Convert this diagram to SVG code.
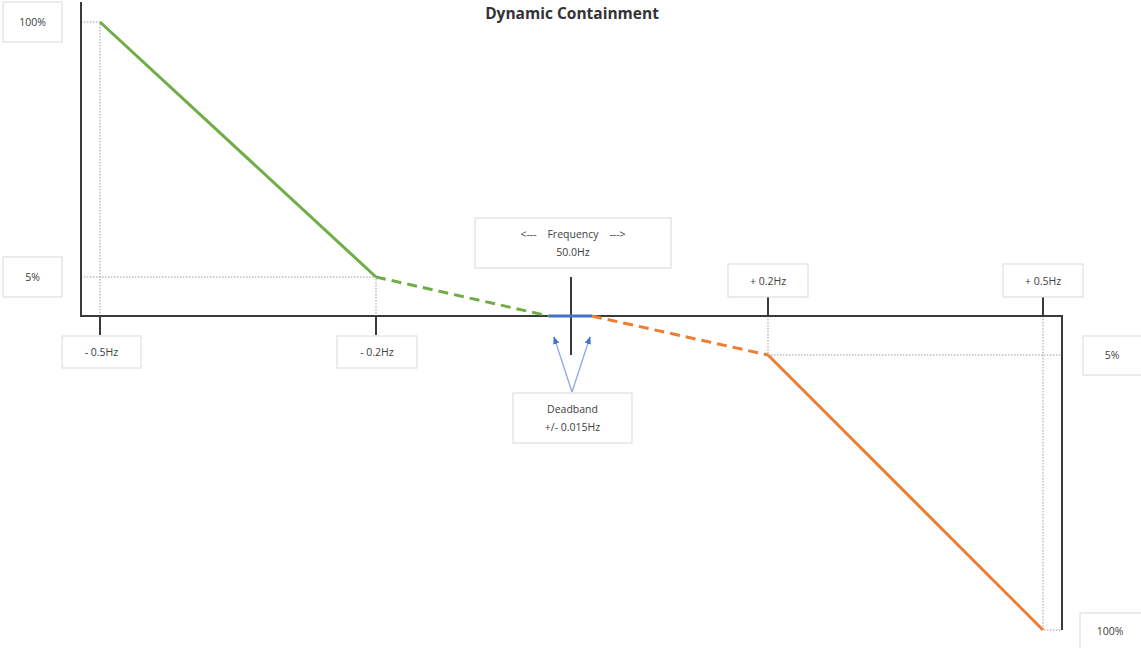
<svg xmlns="http://www.w3.org/2000/svg" width="1141" height="648" viewBox="0 0 1141 648">
<defs>
<style>
.box{fill:#fff;stroke:#d9d9d9;stroke-width:1}
.lbl{font-family:"Open Sans","Liberation Sans",sans-serif;font-size:10.5px;fill:#404040;text-anchor:middle}
.axis{stroke:#3a3a3a;stroke-width:2;fill:none}
.tick{stroke:#3a3a3a;stroke-width:2}
.dot{stroke:#9a9aa8;stroke-width:1;stroke-dasharray:1.5 1.5;fill:none}
.green{stroke:#70ad47;stroke-width:3;fill:none}
.orange{stroke:#ed7d31;stroke-width:3;fill:none}
.dash{stroke-dasharray:10 6}
.arr{stroke:#8faadc;stroke-width:1.3;fill:none}
</style>
<marker id="ah" viewBox="0 0 10 10" refX="9" refY="5" markerWidth="6" markerHeight="6" orient="auto">
<path d="M0,1 L10,5 L0,9 Z" fill="#4472c4"/>
</marker>
</defs>
<rect width="1141" height="648" fill="#fff"/>
<text x="572" y="19" font-family="'Open Sans','Liberation Sans',sans-serif" font-size="15.5" font-weight="bold" fill="#333" text-anchor="middle">Dynamic Containment</text>

<g id="connectors">
<path class="dot" d="M81,22 H100 V316"/>
<path class="dot" d="M81,277 H376 V316"/>
<path class="dot" d="M768,316 V355 H1062"/>
<path class="dot" d="M1043,316 V630 H1062"/>
<path class="axis" d="M81,2 V316 H1062 V630"/>
<line class="tick" x1="100" y1="316" x2="100" y2="335"/>
<line class="tick" x1="376" y1="316" x2="376" y2="335"/>
<line class="tick" x1="768" y1="297" x2="768" y2="316"/>
<line class="tick" x1="1043" y1="297" x2="1043" y2="316"/>
<line class="tick" x1="571" y1="277" x2="571" y2="355"/>
<path class="green" d="M100,22 L376,277"/>
<path class="green dash" d="M376,277 L549,316"/>
<line x1="549" y1="316" x2="592" y2="316" stroke="#4472c4" stroke-width="3"/>
<path class="orange dash" d="M592,316 L768,355"/>
<path class="orange" d="M768,355 L1043,630"/>
<path class="arr" d="M572,392 L554,337" marker-end="url(#ah)"/>
<path class="arr" d="M572,392 L590,337" marker-end="url(#ah)"/>
</g>

<g id="n100top"><rect class="box" x="3" y="2" width="59" height="40"/><text class="lbl" x="32.5" y="26">100%</text></g>
<g id="n5left"><rect class="box" x="3" y="257" width="59" height="40"/><text class="lbl" x="32.5" y="281">5%</text></g>
<g id="nm05"><rect class="box" x="62" y="336" width="79" height="32"/><text class="lbl" x="101.5" y="356">- 0.5Hz</text></g>
<g id="nm02"><rect class="box" x="337" y="336" width="80" height="32"/><text class="lbl" x="377" y="356">- 0.2Hz</text></g>
<g id="nfreq"><rect class="box" x="475" y="218" width="196" height="50"/><text class="lbl" x="573" y="238" xml:space="preserve">&lt;---    Frequency    ---&gt;</text><text class="lbl" x="573" y="256">50.0Hz</text></g>
<g id="ndead"><rect class="box" x="513" y="393" width="119" height="50"/><text class="lbl" x="572.5" y="413">Deadband</text><text class="lbl" x="572.5" y="431">+/- 0.015Hz</text></g>
<g id="np02"><rect class="box" x="728" y="264" width="80" height="33"/><text class="lbl" x="768" y="285">+ 0.2Hz</text></g>
<g id="np05"><rect class="box" x="1003" y="264" width="80" height="33"/><text class="lbl" x="1043" y="285">+ 0.5Hz</text></g>
<g id="n5right"><rect class="box" x="1083" y="336" width="60" height="39"/><text class="lbl" x="1112" y="359">5%</text></g>
<g id="n100bot"><rect class="box" x="1080" y="613" width="62" height="37"/><text class="lbl" x="1110" y="635">100%</text></g>
</svg>
